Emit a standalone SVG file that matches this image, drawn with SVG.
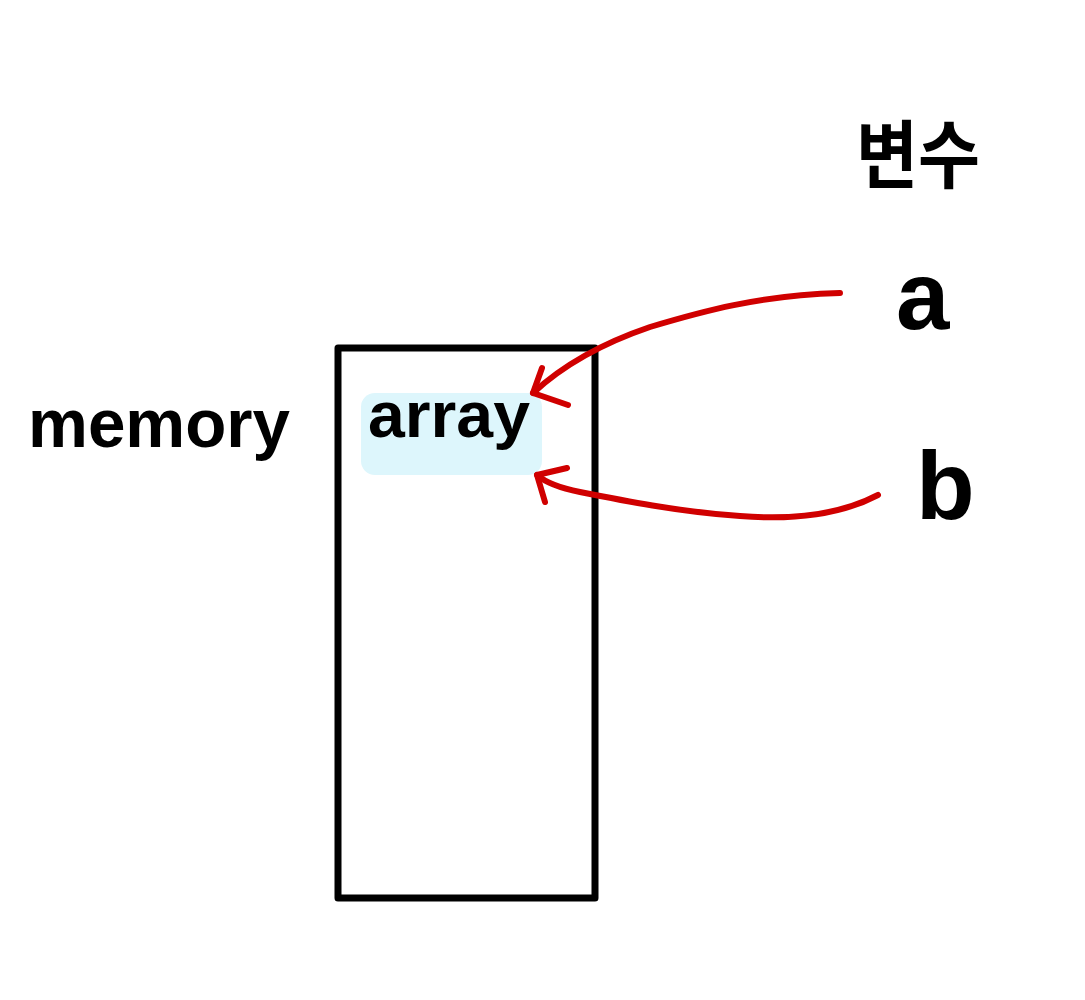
<svg xmlns="http://www.w3.org/2000/svg" width="1085" height="1000" viewBox="0 0 1085 1000">
<style>
.lbl{font-family:"Liberation Sans","Noto Sans CJK KR",sans-serif;font-weight:bold;fill:#000}
.red{fill:none;stroke:#d00000;stroke-width:6;stroke-linecap:round;stroke-linejoin:round}
</style>
<rect width="1085" height="1000" fill="#fff"/>
<g id="memory-box">
<rect x="338" y="348" width="257" height="550" fill="none" stroke="#000" stroke-width="7" stroke-linejoin="round"/>
</g>
<g id="memory-label">
<text class="lbl" x="28" y="447" font-size="68" textLength="262" lengthAdjust="spacingAndGlyphs">memory</text>
</g>
<g id="array">
<rect x="361" y="393" width="181" height="82" rx="14" fill="#ddf6fc"/>
<text class="lbl" x="368" y="437" font-size="64" textLength="162" lengthAdjust="spacingAndGlyphs">array</text>
</g>
<g id="var-title">
<text class="lbl" x="856" y="182" font-size="74" textLength="124" lengthAdjust="spacingAndGlyphs">변수</text>
</g>
<g id="var-a">
<text class="lbl" x="896" y="329" font-size="96">a</text>
</g>
<g id="var-b">
<text class="lbl" x="916" y="519" font-size="96">b</text>
</g>
<g id="connectors">
<path class="red" d="M840,293 C760,295 700,312 650,327 C600,344 560,368 533,393"/>
<path class="red" d="M542,368 L533,393 L568,405"/>
<path class="red" d="M878,495 C840,515 790,520 740,516 C680,512 620,500 580,492 C560,488 545,482 537,475"/>
<path class="red" d="M567,468 L537,475 L545,502"/>
</g>
</svg>
